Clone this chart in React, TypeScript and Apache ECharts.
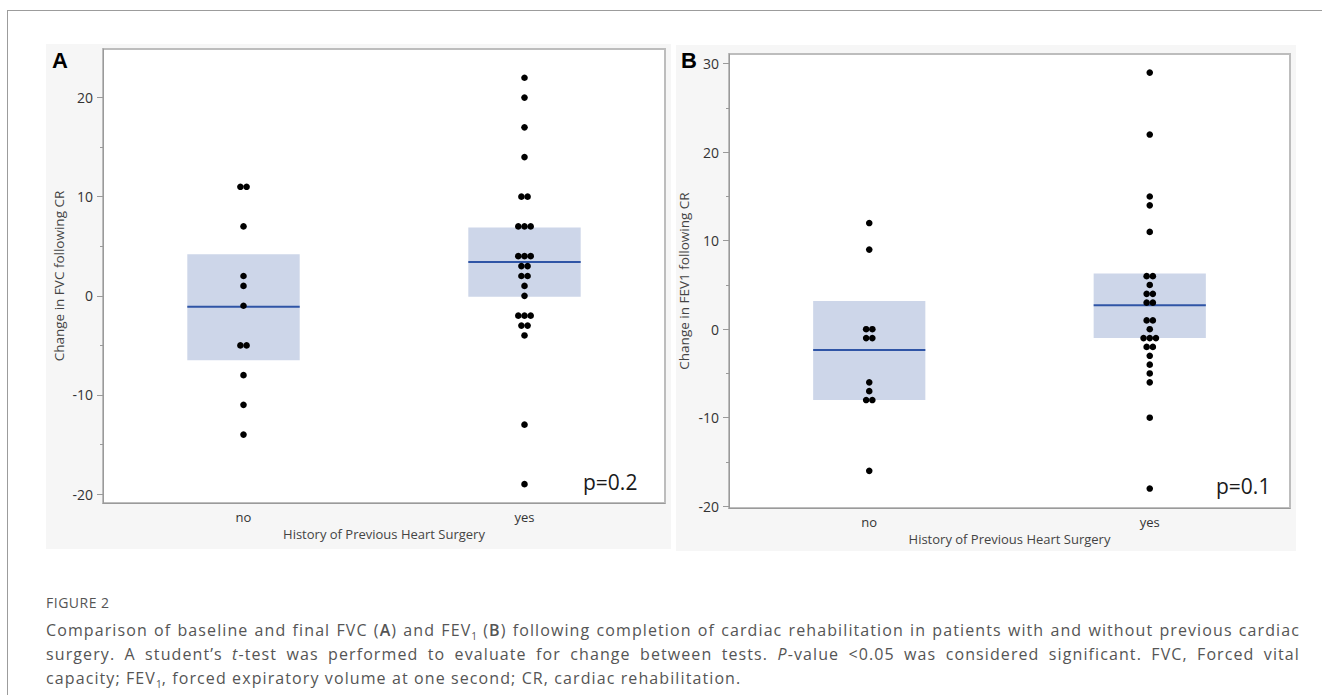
import React, { useEffect, useRef } from "react";
import * as echarts from "echarts";

// ---- data ----
const categories = ["no", "yes"];

// Panel A: change in FVC
const fvcNo = [11, 11, 7, 2, 1, -1, -5, -5, -8, -11, -14];
const fvcYes = [22, 20, 17, 14, 10, 10, 7, 7, 7, 4, 4, 4, 3, 3, 2, 2, 1, 0, -2, -2, -2, -3, -3, -4, -13, -19];
const fvcMean = [-1.1, 3.4];
const fvcLower = [-6.5, -0.1];
const fvcUpper = [4.2, 6.9];
const fvcMajorTicks = [-20, -10, 0, 10, 20];
const fvcMinorTicks = [-15, -5, 5, 15];

// Panel B: change in FEV1
const fev1No = [12, 9, 0, 0, -1, -1, -6, -7, -8, -8, -16];
const fev1Yes = [29, 22, 15, 14, 11, 6, 6, 5, 4, 4, 3, 3, 1, 1, 0, -1, -1, -1, -2, -2, -3, -4, -5, -6, -10, -18];
const fev1Mean = [-2.35, 2.7];
const fev1Lower = [-8.0, -1.0];
const fev1Upper = [3.2, 6.3];
const fev1MajorTicks = [-20, -10, 0, 10, 20, 30];
const fev1MinorTicks = [-15, -5, 5, 15, 25];

const panelLetters = ["A", "B"];
const pValues = ["p=0.2", "p=0.1"];
const yTitles = ["Change in FVC following CR", "Change in FEV1 following CR"];
const xTitle = "History of Previous Heart Surgery";

// build beeswarm items: [categoryIndex, value, offsetSlot]
function swarm(groups: number[][]) {
  const out: number[][] = [];
  groups.forEach((vals, ci) => {
    const counts: Record<string, number> = {};
    vals.forEach((v) => (counts[v] = (counts[v] || 0) + 1));
    const seen: Record<string, number> = {};
    vals.forEach((v) => {
      const n = counts[v];
      const k = seen[v] || 0;
      seen[v] = k + 1;
      out.push([ci, v, k - (n - 1) / 2]);
    });
  });
  return out;
}

const FONT = "'Open Sans', 'Noto Sans', sans-serif";

function dotSeries(idx: number, groups: number[][]) {
  return {
    type: "custom",
    xAxisIndex: idx,
    yAxisIndex: idx * 2,
    z: 5,
    encode: { x: 0, y: 1 },
    data: swarm(groups),
    renderItem: (_p: any, api: any) => {
      const pt = api.coord([api.value(0), api.value(1)]);
      return {
        type: "circle",
        shape: { cx: pt[0] + api.value(2) * 6.2, cy: pt[1], r: 3.3 },
        style: { fill: "#000" },
      };
    },
  };
}

function boxSeries(idx: number, mean: number[], lower: number[], upper: number[]) {
  return {
    type: "custom",
    xAxisIndex: idx,
    yAxisIndex: idx * 2,
    z: 2,
    encode: { x: 0, y: [1, 2, 3] },
    data: categories.map((_c, i) => [i, lower[i], upper[i], mean[i]]),
    renderItem: (_p: any, api: any) => {
      const lo = api.coord([api.value(0), api.value(1)]);
      const hi = api.coord([api.value(0), api.value(2)]);
      const m = api.coord([api.value(0), api.value(3)]);
      const band = api.size([1, 0])[0];
      const w = band * 0.4;
      return {
        type: "group",
        children: [
          {
            type: "rect",
            shape: { x: lo[0] - w / 2, y: hi[1], width: w, height: lo[1] - hi[1] },
            style: { fill: "#cdd6e9" },
          },
          {
            type: "line",
            shape: { x1: lo[0] - w / 2, y1: m[1], x2: lo[0] + w / 2, y2: m[1] },
            style: { stroke: "#2f55a6", lineWidth: 2 },
          },
        ],
      };
    },
  };
}

function yAxes(gi: number, min: number, max: number, major: number[], minor: number[], title: string, gap: number) {
  return [
    {
      type: "value",
      gridIndex: gi,
      min,
      max,
      name: title,
      nameLocation: "middle",
      nameGap: gap,
      nameTextStyle: { fontFamily: FONT, fontSize: 13.5, color: "#444" },
      axisLine: { show: true, onZero: false, lineStyle: { color: "#9a9a9a", width: 1 } },
      axisTick: { show: true, length: 6, customValues: major, lineStyle: { color: "#9a9a9a" } },
      axisLabel: {
        show: true,
        customValues: major,
        margin: 10,
        fontFamily: FONT,
        fontSize: 14,
        color: "#333",
      },
      splitLine: { show: false },
    },
    {
      type: "value",
      gridIndex: gi,
      min,
      max,
      position: "left",
      axisLine: { show: false, onZero: false },
      axisTick: { show: true, length: 3, customValues: minor, lineStyle: { color: "#9a9a9a" } },
      axisLabel: { show: false },
      splitLine: { show: false },
    },
  ];
}

function xAxis(gi: number) {
  return {
    type: "category",
    gridIndex: gi,
    data: categories,
    boundaryGap: true,
    name: xTitle,
    nameLocation: "middle",
    nameGap: 24,
    nameTextStyle: { fontFamily: FONT, fontSize: 13, color: "#444" },
    axisLine: { show: true, onZero: false, lineStyle: { color: "#9a9a9a", width: 1 } },
    axisTick: { show: false },
    axisLabel: { margin: 7, fontFamily: FONT, fontSize: 13, color: "#333" },
    splitLine: { show: false },
  };
}

const captionLines = [
  [
    "Comparison of baseline and final FVC (",
    { b: "A" },
    ") and FEV",
    { sub: "1" },
    " (",
    { b: "B" },
    ") following completion of cardiac rehabilitation in patients with and without previous cardiac",
  ],
  [
    "surgery. A student’s ",
    { i: "t" },
    "-test was performed to evaluate for change between tests. ",
    { i: "P" },
    "-value <0.05 was considered significant. FVC, Forced vital",
  ],
  [
    "capacity; FEV",
    { sub: "1" },
    ", forced expiratory volume at one second; CR, cardiac rehabilitation.",
  ],
];

function renderPart(p: any, k: number) {
  if (typeof p === "string") return <React.Fragment key={k}>{p}</React.Fragment>;
  if (p.b) return <b key={k} style={{ fontWeight: 600 }}>{p.b}</b>;
  if (p.i) return <i key={k}>{p.i}</i>;
  return (
    <span key={k} style={{ fontSize: 10, position: "relative", top: 4, letterSpacing: 0 }}>
      {p.sub}
    </span>
  );
}

export default function App() {
  const ref = useRef<HTMLDivElement>(null);

  useEffect(() => {
    if (!ref.current) return;
    const chart = echarts.init(ref.current, undefined, { renderer: "svg" });
    const gridStyle = {
      show: true,
      backgroundColor: "#ffffff",
      borderColor: "#bdbdbd",
      borderWidth: 2,
      containLabel: false,
    };
    chart.setOption({
      animation: false,
      backgroundColor: "#ffffff",
      grid: [
        { ...gridStyle, left: 103, top: 49, width: 562, height: 454 },
        { ...gridStyle, left: 729, top: 54, width: 561, height: 454 },
      ],
      xAxis: [xAxis(0), xAxis(1)],
      yAxis: [
        ...yAxes(0, -20.9, 24.9, fvcMajorTicks, fvcMinorTicks, yTitles[0], 37),
        ...yAxes(1, -20.2, 31.1, fev1MajorTicks, fev1MinorTicks, yTitles[1], 38),
      ],
      series: [
        boxSeries(0, fvcMean, fvcLower, fvcUpper),
        dotSeries(0, [fvcNo, fvcYes]),
        boxSeries(1, fev1Mean, fev1Lower, fev1Upper),
        dotSeries(1, [fev1No, fev1Yes]),
      ],
      graphic: [
        { type: "rect", z: -10, silent: true, shape: { x: 46, y: 44, width: 625, height: 505 }, style: { fill: "#f6f6f6" } },
        { type: "rect", z: -10, silent: true, shape: { x: 676, y: 45, width: 620, height: 506 }, style: { fill: "#f6f6f6" } },
        { type: "line", z: 1, shape: { x1: 7, y1: 10.5, x2: 1322, y2: 10.5 }, style: { stroke: "#9c9c9c", lineWidth: 1 } },
        { type: "line", z: 1, shape: { x1: 7.5, y1: 10, x2: 7.5, y2: 695 }, style: { stroke: "#9c9c9c", lineWidth: 1 } },
        { type: "text", z: 10, x: 52, y: 49, style: { text: panelLetters[0], font: "bold 22px Arial, 'Liberation Sans', sans-serif", fill: "#000" } },
        { type: "text", z: 10, x: 681, y: 49, style: { text: panelLetters[1], font: "bold 22px Arial, 'Liberation Sans', sans-serif", fill: "#000" } },
        { type: "text", z: 10, x: 583, y: 471, style: { text: pValues[0], font: "21px 'Open Sans', sans-serif", fill: "#1a1a1a" } },
        { type: "text", z: 10, x: 1216, y: 475, style: { text: pValues[1], font: "21px 'Open Sans', sans-serif", fill: "#1a1a1a" } },
      ],
    });
    return () => chart.dispose();
  }, []);

  return (
    <div style={{ position: "absolute", left: 0, top: 0, width: 1322, height: 695, background: "#fff" }}>
      <div ref={ref} style={{ position: "absolute", left: 0, top: 0, width: 1322, height: 695 }} />
      <div
        style={{
          position: "absolute",
          left: 46,
          top: 594,
          fontFamily: FONT,
          fontSize: 14,
          letterSpacing: "0.5px",
          lineHeight: "18px",
          color: "#555",
        }}
      >
        FIGURE 2
      </div>
      {captionLines.map((line, li) => (
        <div
          key={li}
          style={{
            position: "absolute",
            left: 46,
            top: 618 + li * 24,
            width: 1254,
            height: 24,
            whiteSpace: "nowrap",
            fontFamily: FONT,
            fontSize: 16,
            letterSpacing: "1.1px",
            lineHeight: "24px",
            color: "#555",
            textAlign: li < 2 ? "justify" : "left",
            textAlignLast: li < 2 ? "justify" : "left",
          } as any}
        >
          {line.map(renderPart)}
        </div>
      ))}
    </div>
  );
}
